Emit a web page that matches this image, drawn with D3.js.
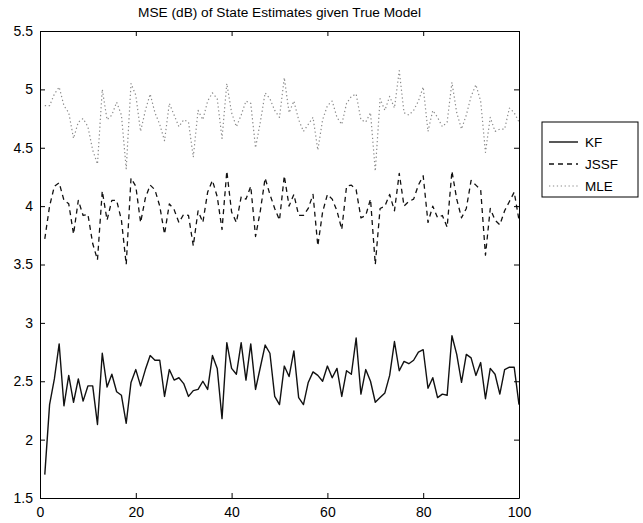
<!DOCTYPE html>
<html>
<head>
<meta charset="utf-8">
<script src="https://cdn.jsdelivr.net/npm/d3@7"></script>
<style>
  body { margin: 0; background: #fff; }
  svg { display: block; font-family: "Liberation Sans", Arial, Helvetica, sans-serif; }
  .axis text { font-size: 14px; fill: #000; }
  .axis path, .axis line { stroke: #000; }
</style>
</head>
<body>
<svg id="chart" width="643" height="523"></svg>
<script>
// values, index 1..100
const kfValues = [1.70, 2.30, 2.52, 2.82, 2.29, 2.55, 2.32, 2.52, 2.33, 2.46,
  2.46, 2.13, 2.74, 2.45, 2.56, 2.41, 2.38, 2.14, 2.49, 2.60,
  2.46, 2.60, 2.72, 2.68, 2.68, 2.37, 2.60, 2.51, 2.53, 2.48,
  2.37, 2.42, 2.43, 2.50, 2.43, 2.72, 2.61, 2.18, 2.83, 2.61,
  2.56, 2.83, 2.51, 2.82, 2.43, 2.62, 2.81, 2.74, 2.37, 2.30,
  2.63, 2.54, 2.76, 2.36, 2.30, 2.49, 2.58, 2.55, 2.50, 2.63,
  2.53, 2.61, 2.37, 2.59, 2.56, 2.87, 2.39, 2.60, 2.50, 2.32,
  2.36, 2.40, 2.55, 2.84, 2.59, 2.67, 2.65, 2.68, 2.75, 2.77,
  2.44, 2.53, 2.36, 2.39, 2.38, 2.89, 2.73, 2.49, 2.73, 2.70,
  2.55, 2.66, 2.35, 2.61, 2.56, 2.39, 2.60, 2.62, 2.62, 2.30];

const jssfValues = [3.72, 4.00, 4.17, 4.20, 4.05, 4.02, 3.76, 4.05, 3.92, 3.93,
  3.68, 3.54, 4.13, 3.88, 4.05, 4.05, 3.88, 3.50, 4.24, 4.17,
  3.86, 4.07, 4.18, 4.14, 4.00, 3.76, 4.02, 3.97, 3.86, 3.93,
  3.92, 3.66, 3.96, 3.86, 4.12, 4.22, 4.08, 3.80, 4.30, 3.95,
  3.86, 4.08, 4.06, 4.17, 3.74, 3.96, 4.24, 4.10, 3.98, 3.88,
  4.26, 4.00, 4.10, 3.92, 3.92, 3.98, 4.10, 3.66, 3.95, 4.10,
  4.06, 3.96, 3.80, 4.17, 4.18, 4.14, 3.90, 3.92, 4.06, 3.50,
  3.98, 4.00, 4.10, 3.96, 4.28, 4.00, 4.04, 4.06, 4.18, 4.26,
  3.86, 4.00, 3.90, 3.92, 3.82, 4.30, 4.06, 3.90, 3.98, 4.22,
  4.18, 4.14, 3.58, 3.98, 3.88, 3.84, 3.96, 4.04, 4.12, 3.88];

const mleValues = [4.86, 4.86, 4.96, 5.02, 4.86, 4.80, 4.58, 4.72, 4.75, 4.68,
  4.48, 4.36, 5.00, 4.74, 4.78, 4.89, 4.78, 4.32, 5.05, 4.95,
  4.64, 4.82, 4.96, 4.80, 4.70, 4.56, 4.88, 4.78, 4.68, 4.74,
  4.72, 4.42, 4.82, 4.74, 4.90, 4.97, 4.92, 4.58, 5.05, 4.80,
  4.68, 4.78, 4.90, 4.88, 4.50, 4.72, 4.97, 4.92, 4.82, 4.76,
  5.10, 4.80, 4.90, 4.74, 4.64, 4.70, 4.76, 4.48, 4.74, 4.86,
  4.90, 4.76, 4.70, 4.88, 4.94, 4.96, 4.74, 4.72, 4.80, 4.30,
  4.92, 4.82, 4.94, 4.84, 5.16, 4.80, 4.78, 4.82, 4.90, 5.02,
  4.64, 4.82, 4.76, 4.68, 4.72, 5.06, 4.80, 4.66, 4.78, 4.94,
  5.04, 4.90, 4.46, 4.76, 4.64, 4.66, 4.66, 4.84, 4.80, 4.72];

const seriesNames = ['KF', 'JSSF', 'MLE'];
const xTicks = [0, 20, 40, 60, 80, 100];
const yTicks = [1.5, 2, 2.5, 3, 3.5, 4, 4.5, 5, 5.5];
const chartTitle = 'MSE (dB) of State Estimates given True Model';

const svg = d3.select('#chart');
const margin = { top: 31, right: 124, bottom: 25, left: 40 };
const width = 643 - margin.left - margin.right;   // 479
const height = 523 - margin.top - margin.bottom;  // 467

const x = d3.scaleLinear().domain([0, 100]).range([0, width]);
const y = d3.scaleLinear().domain([1.5, 5.5]).range([height, 0]);

const g = svg.append('g')
  .attr('transform', 'translate(' + margin.left + ',' + margin.top + ')');

// line styles per series
const styles = {
  KF: { stroke: '#111', dash: null, width: 1.4 },
  JSSF: { stroke: '#111', dash: '5,4', width: 1.3 },
  MLE: { stroke: '#8a8a8a', dash: '1.3,2.6', width: 1.2 }
};

const seriesData = [kfValues, jssfValues, mleValues].map((vals, k) => ({
  name: seriesNames[k],
  values: vals.map((v, i) => ({ idx: i + 1, val: v }))
}));

const line = d3.line()
  .x(d => x(d.idx))
  .y(d => y(d.val));

// draw MLE first so the darker lines sit on top
seriesData.slice().reverse().forEach(s => {
  g.append('path')
    .datum(s.values)
    .attr('fill', 'none')
    .attr('stroke', styles[s.name].stroke)
    .attr('stroke-width', styles[s.name].width)
    .attr('stroke-dasharray', styles[s.name].dash)
    .attr('stroke-linejoin', 'round')
    .attr('d', line);
});

// axes, matlab style box with inward ticks on all four sides
const tickLen = 5;
g.append('g')
  .attr('class', 'axis')
  .attr('transform', 'translate(0,' + height + ')')
  .call(d3.axisBottom(x).tickValues(xTicks).tickSizeInner(-tickLen).tickSizeOuter(0).tickPadding(7))
  .call(a => a.selectAll('text').attr('dy', '0.85em'));

g.append('g')
  .attr('class', 'axis')
  .call(d3.axisLeft(y).tickValues(yTicks).tickFormat(d3.format('')).tickSizeInner(-tickLen).tickSizeOuter(0).tickPadding(7));

g.append('g')
  .attr('class', 'axis')
  .call(d3.axisTop(x).tickValues(xTicks).tickSizeInner(-tickLen).tickSizeOuter(0).tickFormat(''));

g.append('g')
  .attr('class', 'axis')
  .attr('transform', 'translate(' + width + ',0)')
  .call(d3.axisRight(y).tickValues(yTicks).tickSizeInner(-tickLen).tickSizeOuter(0).tickFormat(''));

// title
svg.append('text')
  .attr('x', margin.left + width / 2)
  .attr('y', 17)
  .attr('text-anchor', 'middle')
  .style('font-size', '13.7px')
  .text(chartTitle);

// legend
const legend = svg.append('g').attr('transform', 'translate(542,122)');
legend.append('rect')
  .attr('width', 96)
  .attr('height', 75)
  .attr('fill', '#fff')
  .attr('stroke', '#000')
  .attr('stroke-width', 1);

seriesNames.forEach((name, k) => {
  const ly = 20 + k * 22;
  legend.append('line')
    .attr('x1', 7).attr('x2', 36)
    .attr('y1', ly).attr('y2', ly)
    .attr('stroke', styles[name].stroke)
    .attr('stroke-width', styles[name].width)
    .attr('stroke-dasharray', styles[name].dash);
  legend.append('text')
    .attr('x', 43)
    .attr('y', ly)
    .attr('dy', '0.35em')
    .style('font-size', '13.5px')
    .text(name);
});
</script>
</body>
</html>
